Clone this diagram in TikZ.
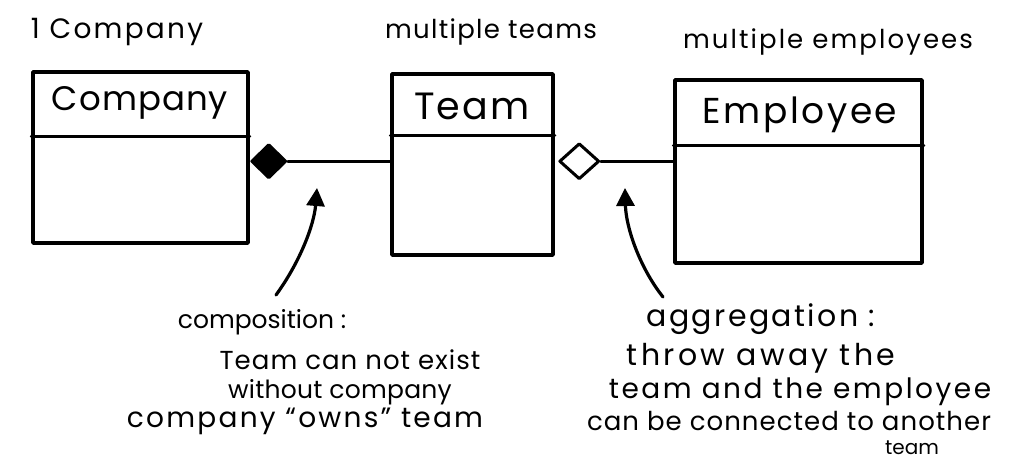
\documentclass[tikz,border=0pt]{standalone}
\usepackage{fontspec}
\setmainfont{Poppins}
\usetikzlibrary{shapes.geometric,arrows.meta}
\newcommand{\hw}[2]{\fontsize{#1}{#1}\selectfont\addfontfeatures{LetterSpace=#2}}
\begin{document}
\begin{tikzpicture}[x=1pt,y=-1pt,
  line width=3.5pt, line join=round, line cap=round,
  classbox/.style={draw, rectangle, inner sep=0pt},
  divider/.style={line width=3pt},
  txt/.style={inner sep=0pt},
  compdiamond/.style={diamond, draw, fill=black, inner sep=0pt, line width=3pt},
  aggdiamond/.style={diamond, draw, fill=white, inner sep=0pt, line width=3pt},
  pointer/.style={line width=3.2pt, -{Triangle[length=18pt,width=18pt]}},
  link/.style={line width=3pt}]
\useasboundingbox (0,0) rectangle (1025,460);

% headings
\node[txt, font=\hw{28}{8}] (h1) at (117,32) {1 Company};
\node[txt, font=\hw{26}{5}] (h2) at (491,32) {multiple teams};
\node[txt, font=\hw{26}{8}] (h3) at (828,42) {multiple employees};

% class boxes
\node[classbox, minimum width=215pt, minimum height=171pt] (company) at (140.5,157.5) {};
\node[classbox, minimum width=161pt, minimum height=181pt] (team) at (472.5,164.5) {};
\node[classbox, minimum width=247pt, minimum height=183pt] (employee) at (798.5,171.5) {};

\draw[divider] ([yshift=-66pt]company.north west) -- ([yshift=-66pt]company.north east);
\draw[divider] ([yshift=-63pt]team.north west) -- ([yshift=-63pt]team.north east);
\draw[divider] ([yshift=-67pt]employee.north west) -- ([yshift=-67pt]employee.north east);

\node[txt, font=\hw{34}{3}] (companyname) at (140,103) {Company};
\node[txt, font=\hw{38}{6}] (teamname) at (472,106) {Team};
\node[txt, font=\hw{36}{7}] (employeename) at (800,115) {Employee};

% relations
\node[compdiamond, minimum width=35pt, minimum height=34pt, anchor=west] (d1) at ([yshift=-91pt]company.north east) {};
\draw[link] (d1.east) -- (team.west |- d1.east);

\node[aggdiamond, minimum width=40pt, minimum height=36pt, anchor=west] (d2) at ([yshift=-89pt, xshift=3pt]team.north east) {};
\draw[link] (d2.east) -- (employee.west |- d2.east);

% notes
\coordinate (tip1) at (317,188);
\coordinate (tail1) at (276,295);
\draw[pointer] (tail1) .. controls (300,262) and (314,225) .. (tip1);

\coordinate (tip2) at (625,188);
\coordinate (tail2) at (663,297);
\draw[pointer] (tail2) .. controls (640,268) and (626,228) .. (tip2);

\node[txt, font=\hw{25}{0}] (c1) at (262,322) {composition :};
\node[txt, font=\hw{26}{4}] (c2) at (350,360) {Team can not exist};
\node[txt, font=\hw{25}{1}] (c3) at (340,392) {without company};
\node[txt, font=\hw{28}{8}] (c4) at (305,421) {company “owns” team};

\node[txt, font=\hw{30}{8}] (a1) at (761,319) {aggregation :};
\node[txt, font=\hw{30}{11}] (a2) at (761,358) {throw away the};
\node[txt, font=\hw{28}{9}] (a3) at (800,392) {team and the employee};
\node[txt, font=\hw{26}{4}] (a4) at (789,421) {can be connected to another};
\node[txt, font=\hw{20}{0}] (a5) at (912,448) {team};
\end{tikzpicture}
\end{document}
